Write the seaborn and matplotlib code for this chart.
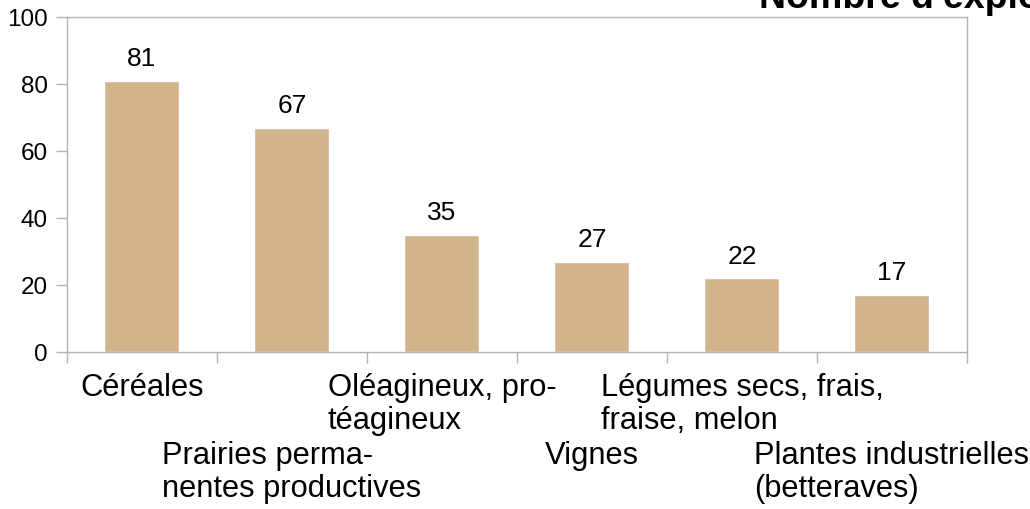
import matplotlib
matplotlib.use("Agg")
import matplotlib.pyplot as plt
import seaborn as sns
import pandas as pd
import numpy as np

categories = [
    "Céréales",
    "Prairies perma-\nnentes productives",
    "Oléagineux, pro-\ntéagineux",
    "Vignes",
    "Légumes secs, frais,\nfraise, melon",
    "Plantes industrielles\n(betteraves)",
]
values = [81, 67, 35, 27, 22, 17]
y_ticks = [0, 20, 40, 60, 80, 100]
title = "Nombre d'exploitations"

sns.set_theme(style="white")
plt.rcParams["font.family"] = ["Liberation Sans", "DejaVu Sans"]

df = pd.DataFrame({"culture": categories, "n": values})

fig = plt.figure(figsize=(10.30, 5.09), dpi=100)
ax = fig.add_axes([0.065, 0.3084, 0.8738, 0.6582])

sns.barplot(data=df, x="culture", y="n", color="#D2B48C", saturation=1,
            width=0.5, ax=ax)

ax.set_xlim(-0.5, len(categories) - 0.5)
ax.set_ylim(0, 100)
ax.set_yticks(y_ticks)
ax.set_xlabel("")
ax.set_ylabel("")

grey = "#b3b3b3"
for s in ax.spines.values():
    s.set_color(grey)
    s.set_linewidth(1.0)

ax.tick_params(axis="y", which="major", length=8, width=1, color=grey,
               pad=6, labelsize=17.5, labelcolor="black", left=True)
ax.set_xticks(np.arange(len(categories)))
ax.set_xticklabels(categories, multialignment="left", linespacing=1.12)
ax.tick_params(axis="x", which="major", length=0, pad=15, labelsize=22.2,
               labelcolor="black")
ax.set_xticks(np.arange(len(categories) + 1) - 0.5, minor=True)
ax.tick_params(axis="x", which="minor", length=8, width=1, color=grey,
               bottom=True)

for i, t in enumerate(ax.xaxis.get_major_ticks()):
    if i % 2 == 1:
        t.set_pad(64)

ax.bar_label(ax.containers[0], labels=[str(v) for v in values],
             padding=7, fontsize=19, color="black")

fig.text(759 / 1030, 1 - 8 / 509, title, fontsize=27, fontweight="bold",
         ha="left", va="baseline", color="black")

fig.savefig("out.png", dpi=100, facecolor="white")
